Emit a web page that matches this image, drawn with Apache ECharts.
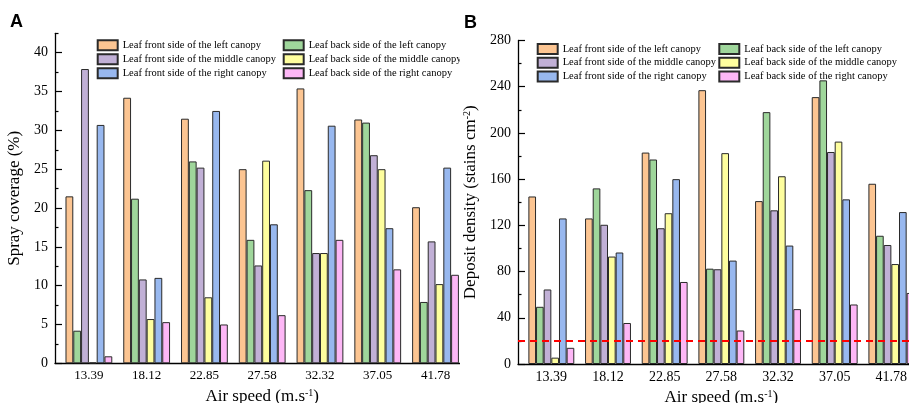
<!DOCTYPE html>
<html><head><meta charset="utf-8">
<script src="https://cdn.jsdelivr.net/npm/echarts@6/dist/echarts.min.js"></script>
<style>
html,body{margin:0;padding:0;width:909px;height:403px;overflow:hidden;background:#fff;}
#wrapA{position:absolute;left:0;top:0;width:460px;height:403px;overflow:hidden;}
#chartA{width:480px;height:403px;}
#wrapB{position:absolute;left:455px;top:0;width:454px;height:403px;overflow:hidden;}
#chartB{width:470px;height:403px;}
</style></head><body>
<div id="wrapA"><div id="chartA"></div></div>
<div id="wrapB"><div id="chartB"></div></div>
<script>
// ---------- data ----------
const categories = ['13.39', '18.12', '22.85', '27.58', '32.32', '37.05', '41.78'];
const seriesNames = [
  'Leaf front side of the left canopy',
  'Leaf back side of the left canopy',
  'Leaf front side of the middle canopy',
  'Leaf back side of the middle canopy',
  'Leaf front side of the right canopy',
  'Leaf back side of the right canopy'
];
// Panel A: spray coverage (%)
const coverFrontLeft   = [21.5, 34.2, 31.5, 25.0, 35.4, 31.4, 20.1];
const coverBackLeft    = [4.2, 21.2, 26.0, 15.9, 22.3, 31.0, 7.9];
const coverFrontMiddle = [37.9, 10.8, 25.2, 12.6, 14.2, 26.8, 15.7];
const coverBackMiddle  = [0.1, 5.7, 8.5, 26.1, 14.2, 25.0, 10.2];
const coverFrontRight  = [30.7, 11.0, 32.5, 17.9, 30.6, 17.4, 25.2];
const coverBackRight   = [0.9, 5.3, 5.0, 6.2, 15.9, 12.1, 11.4];
// Panel B: deposit density (stains cm-2)
const densFrontLeft   = [145, 126, 183, 237, 141, 231, 156];
const densBackLeft    = [49.5, 152, 177, 82.5, 218, 245.5, 111];
const densFrontMiddle = [64.5, 120.5, 117.5, 82, 133, 183.5, 103];
const densBackMiddle  = [5.5, 93, 130.5, 182.5, 162.5, 192.5, 86.5];
const densFrontRight  = [126, 96.5, 160, 89.5, 102.5, 142.5, 131.5];
const densBackRight   = [14, 35.5, 71, 29, 47.5, 51.5, 61.5];
const densThreshold = 20;
// tick labels
const coverMajorTicks = [0, 5, 10, 15, 20, 25, 30, 35, 40];
const coverMinorTicks = [2.5, 7.5, 12.5, 17.5, 22.5, 27.5, 32.5, 37.5, 42.5];
const densMajorTicks = [0, 40, 80, 120, 160, 200, 240, 280];
const densMinorTicks = [20, 60, 100, 140, 180, 220, 260];

// ---------- style ----------
const palette = ['#FCC592', '#9FD69B', '#C1B0D6', '#FEFE9E', '#98B8EF', '#FDB7F6'];
const SERIF = '"Liberation Serif", "Times New Roman", serif';

function build(cfg) {
  const grid = [
    {left: cfg.axisLeft, right: cfg.right, top: cfg.top, bottom: cfg.bottom, outerBoundsMode: 'none', containLabel: false},
    {left: cfg.dataLeft, right: cfg.right, top: cfg.top, bottom: cfg.bottom, outerBoundsMode: 'none', containLabel: false}
  ];
  const axisLineStyle = {color: '#000', width: 1.3};
  const xAxis = [
    {gridIndex: 0, type: 'value', min: 0, max: 1,
     axisLine: {show: true, onZero: false, lineStyle: axisLineStyle},
     axisTick: {show: false}, axisLabel: {show: false}, splitLine: {show: false}},
    {gridIndex: 1, type: 'category', data: categories,
     axisLine: {show: false}, axisTick: {show: false},
     axisLabel: {color: '#000', fontFamily: SERIF, fontSize: cfg.xLabelSize, margin: 6},
     name: 'Air speed (m.s{sup|-1})', nameLocation: 'middle', nameGap: cfg.xNameGap,
     nameTextStyle: {color: '#000', fontFamily: SERIF, fontSize: 17,
       rich: {sup: {fontFamily: SERIF, fontSize: 10, color: '#000', verticalAlign: 'top'}}}}
  ];
  const yAxis = [
    {gridIndex: 0, type: 'value', position: 'left', min: 0, max: cfg.max, interval: cfg.tickStep,
     axisLine: {show: true, lineStyle: axisLineStyle},
     axisTick: {show: true, inside: true, length: 7, customValues: cfg.major, lineStyle: {color: '#000', width: 1.2}},
     axisLabel: {customValues: cfg.major, color: '#000', fontFamily: SERIF, fontSize: cfg.yLabelSize, margin: 7},
     splitLine: {show: false},
     name: cfg.yName, nameLocation: 'middle', nameGap: cfg.yNameGap,
     nameTextStyle: {color: '#000', fontFamily: SERIF, fontSize: 17,
       rich: {sup: {fontFamily: SERIF, fontSize: 10, color: '#000', verticalAlign: 'top'}}}},
    {gridIndex: 0, type: 'value', position: 'left', offset: 0, min: 0, max: cfg.max, interval: cfg.tickStep,
     axisLine: {show: false},
     axisTick: {show: true, inside: true, length: 3.5, customValues: cfg.minor, lineStyle: {color: '#000', width: 1.2}},
     axisLabel: {show: false}, splitLine: {show: false}},
    {gridIndex: 1, type: 'value', min: 0, max: cfg.max, show: false}
  ];
  const series = cfg.values.map((vals, i) => ({
    name: seriesNames[i], type: 'bar', xAxisIndex: 1, yAxisIndex: 2,
    data: vals, barGap: '0%', barCategoryGap: '19%',
    itemStyle: {color: palette[i], borderColor: '#2a2a2a', borderWidth: 1},
    emphasis: {disabled: true}
  }));
  if (cfg.threshold !== undefined) {
    series.push({
      type: 'line', xAxisIndex: 0, yAxisIndex: 0, data: [], z: 10,
      markLine: {silent: true, symbol: ['none', 'none'], label: {show: false},
        lineStyle: {color: '#FF0000', type: [7, 5], width: 2},
        data: [{yAxis: cfg.threshold}]}
    });
  }
  const legendBase = {orient: 'vertical', itemWidth: 20, itemHeight: 10, itemGap: cfg.legendGap,
    padding: 0, icon: 'rect', selectedMode: false,
    textStyle: {color: '#000', fontFamily: SERIF, fontSize: 10.5, lineHeight: 10.5}};
  const legend = [
    Object.assign({}, legendBase, {left: cfg.legendCol1, top: cfg.legendTop, data: [seriesNames[0], seriesNames[2], seriesNames[4]]}),
    Object.assign({}, legendBase, {left: cfg.legendCol2, top: cfg.legendTop, data: [seriesNames[1], seriesNames[3], seriesNames[5]]})
  ];
  return {
    animation: false,
    title: {text: cfg.label, left: cfg.labelLeft, top: cfg.labelTop, padding: 0,
      textStyle: {fontFamily: '"Liberation Sans", Arial, sans-serif', fontWeight: 'bold', fontSize: 18, color: '#000'}},
    legend, grid, xAxis, yAxis, series
  };
}

const chartA = echarts.init(document.getElementById('chartA'), null, {renderer: 'canvas'});
chartA.setOption(build({
  label: 'A', labelLeft: 10, labelTop: 13,
  axisLeft: 55, dataLeft: 60, right: 15.6, top: 33.3, bottom: 39.7,
  max: 42.5, tickStep: 2.5, major: coverMajorTicks, minor: coverMinorTicks,
  xLabelSize: 13, yLabelSize: 14, xNameGap: 25, yNameGap: 24,
  yName: 'Spray coverage (%)',
  legendCol1: 96.7, legendCol2: 282.7, legendTop: 39.3, legendGap: 2,
  values: [coverFrontLeft, coverBackLeft, coverFrontMiddle, coverBackMiddle, coverFrontRight, coverBackRight]
}));

const chartB = echarts.init(document.getElementById('chartB'), null, {renderer: 'canvas'});
chartB.setOption(build({
  label: 'B', labelLeft: 9, labelTop: 14.5,
  axisLeft: 63, dataLeft: 68, right: 5.3, top: 40.5, bottom: 39,
  max: 280, tickStep: 20, major: densMajorTicks, minor: densMinorTicks,
  xLabelSize: 14, yLabelSize: 14, xNameGap: 23, yNameGap: 28,
  yName: 'Deposit density (stains cm{sup|-2})',
  legendCol1: 81.7, legendCol2: 263.3, legendTop: 43, legendGap: 1.7,
  threshold: densThreshold,
  values: [densFrontLeft, densBackLeft, densFrontMiddle, densBackMiddle, densFrontRight, densBackRight]
}));
</script>
</body></html>
